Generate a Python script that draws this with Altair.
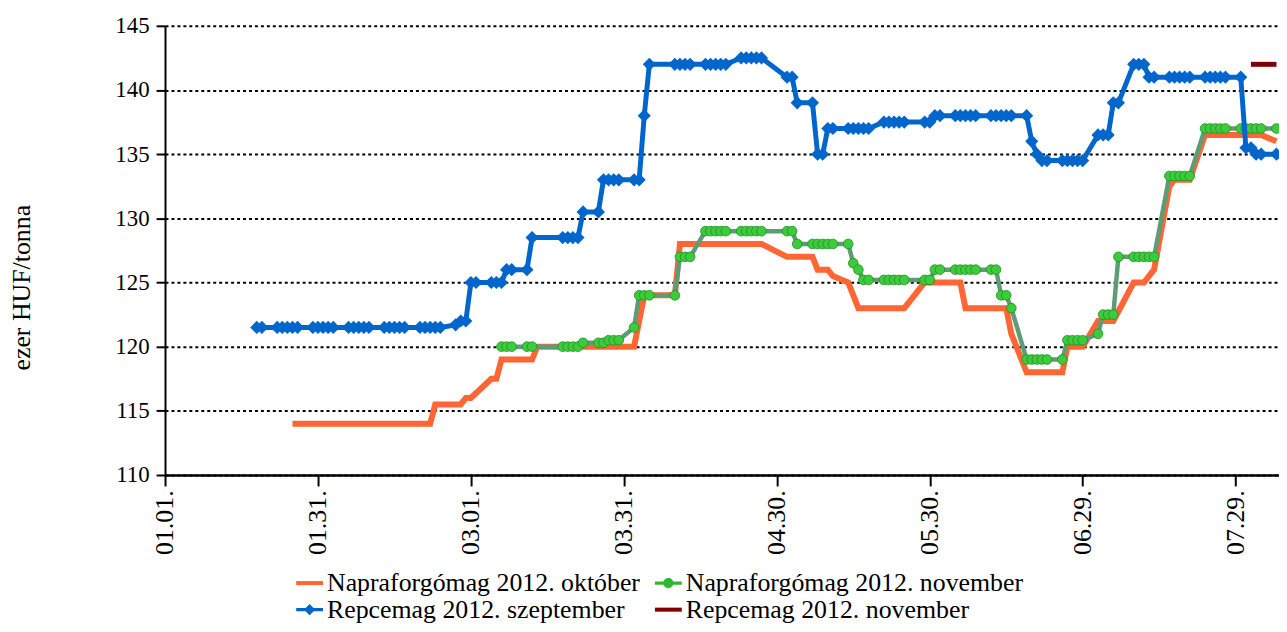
import altair as alt
import pandas as pd

# ---------------- data ----------------
START = "2012-01-01"
HOLIDAYS = ["2012-03-15", "2012-03-16", "2012-04-06", "2012-04-09",
            "2012-04-30", "2012-05-01", "2012-05-28"]

series_names = ["Napraforgómag 2012. október", "Napraforgómag 2012. november",
                "Repcemag 2012. szeptember", "Repcemag 2012. november"]

tick_days = [0, 30, 60, 90, 120, 150, 180, 210]
tick_labels = ["01.01.", "01.31.", "03.01.", "03.31.", "04.30.", "05.30.", "06.29.", "07.29."]

# Napraforgómag 2012. október (line vertices)
okt_dates = ["01-26", "02-22", "02-23", "02-28", "02-29", "03-01", "03-05", "03-06", "03-07",
             "03-13", "03-14", "04-02", "04-04", "04-10", "04-11", "04-27", "05-02", "05-07",
             "05-08", "05-10", "05-11", "05-14", "05-16", "05-25", "05-29", "06-05", "06-06",
             "06-14", "06-15", "06-18", "06-25", "06-26", "06-29", "07-02", "07-05", "07-09",
             "07-11", "07-13", "07-16", "07-17", "07-20", "07-23", "08-03", "08-06"]
okt_values = [114, 114, 115.5, 115.5, 116, 116, 117.5, 117.5, 119,
              119, 120, 120, 124, 124, 128, 128, 127, 127,
              126, 126, 125.5, 125, 123, 123, 125, 125, 123,
              123, 121, 118, 118, 120, 120, 122, 122, 125,
              125, 126, 132.5, 133, 133, 136.5, 136.5, 136]

# Napraforgómag 2012. november (trading-day levels: from, to, value)
nov_from = ["03-07", "03-12", "03-19", "03-23", "03-28", "04-02", "04-03", "04-10", "04-11",
            "04-16", "05-04", "05-15", "05-16", "05-17", "05-31", "06-13", "06-15", "06-18",
            "06-26", "07-02", "07-03", "07-06", "07-16", "07-23"]
nov_to = ["03-09", "03-13", "03-22", "03-27", "03-30", "04-02", "04-05", "04-10", "04-13",
          "05-03", "05-14", "05-15", "05-16", "05-30", "06-12", "06-14", "06-15", "06-25",
          "06-29", "07-02", "07-05", "07-13", "07-20", "08-06"]
nov_values = [120, 120, 120, 120.3, 120.5, 121.5, 124, 124, 127,
              129, 128, 126.5, 126, 125.2, 126, 124, 123, 119,
              120.5, 121, 122.5, 127, 133.3, 137]

# Repcemag 2012. szeptember (trading-day levels: from, to, value)
rep_from = ["01-19", "02-27", "02-28", "03-01", "03-08", "03-13", "03-19", "03-23", "03-27",
            "04-04", "04-05", "04-23", "05-02", "05-04", "05-08", "05-10", "05-21", "05-31",
            "06-19", "06-20", "06-21", "07-02", "07-05", "07-09", "07-12", "07-31", "08-02"]
rep_to = ["02-24", "02-27", "02-29", "03-07", "03-12", "03-13", "03-22", "03-26", "04-03",
          "04-04", "04-20", "04-27", "05-03", "05-07", "05-09", "05-18", "05-30", "06-18",
          "06-19", "06-20", "06-29", "07-04", "07-06", "07-11", "07-30", "08-01", "08-06"]
rep_values = [121.5, 121.7, 122, 125, 126, 128.5, 128.5, 130.5, 133,
              138, 142, 142.5, 141, 139, 135, 137, 137.5, 138,
              136, 135, 134.5, 136.5, 139, 142, 141, 135.5, 135]

# Repcemag 2012. november
repnov_dates = ["08-01", "08-06"]
repnov_values = [142, 142]

# ---------------- build tables ----------------
t0 = pd.Timestamp(START)


def day_of(mmdd):
    return (pd.Timestamp("2012-" + mmdd) - t0).days


def levels(froms, tos, vals):
    rows = []
    for a, b, v in zip(froms, tos, vals):
        for d in pd.bdate_range("2012-" + a, "2012-" + b):
            if d.strftime("%Y-%m-%d") not in HOLIDAYS:
                rows.append({"day": (d - t0).days, "value": v})
    return pd.DataFrame(rows)


df_okt = pd.DataFrame({"day": [day_of(d) for d in okt_dates], "value": okt_values})
df_nov = levels(nov_from, nov_to, nov_values)
df_rep = levels(rep_from, rep_to, rep_values)
df_repnov = pd.DataFrame({"day": [day_of(d) for d in repnov_dates], "value": repnov_values})
df_legend = pd.DataFrame({"series": series_names})

# ---------------- style ----------------
FONT = "Liberation Serif"
ORANGE = "#FF6633"
GREEN_LINE = "#5E9C76"
GREEN_PT = "#3CCB3C"
GREEN_EDGE = "#1F8F1F"
BLUE = "#0066CC"
DARKRED = "#800000"

label_expr = "[" + ",".join("'%s'" % t for t in tick_labels) + "][round(datum.value / 30)]"

X = alt.X("day:Q",
          scale=alt.Scale(domain=[0, 218.5], nice=False, zero=False),
          axis=alt.Axis(values=tick_days, labelExpr=label_expr, labelAngle=270,
                        labelFont=FONT, labelFontSize=26, labelColor="black",
                        labelPadding=4, tickSize=11, tickWidth=2, tickColor="black",
                        domainColor="black", domainWidth=2.5, grid=False, title=None))
Y = alt.Y("value:Q",
          scale=alt.Scale(domain=[110, 145], nice=False, zero=False),
          axis=alt.Axis(values=list(range(110, 146, 5)), labelFont=FONT, labelFontSize=23,
                        labelColor="black", labelPadding=7, tickSize=9, tickWidth=2,
                        tickColor="black", domainColor="black", domainWidth=2,
                        grid=True, gridColor="black", gridDash=[3, 3], gridWidth=2,
                        title="ezer HUF/tonna", titleFont=FONT, titleFontSize=26,
                        titleFontWeight="normal", titleColor="black", titleAngle=270,
                        titleAlign="center", titleBaseline="middle",
                        titleX=-144, titleY=263))

orange_line = alt.Chart(df_okt).mark_line(color=ORANGE, strokeWidth=6).encode(x=X, y=Y)
green_line = alt.Chart(df_nov).mark_line(color=GREEN_LINE, strokeWidth=4.5).encode(x=X, y=Y)
green_pts = alt.Chart(df_nov).mark_point(shape="circle", filled=True, fill=GREEN_PT,
                                         stroke=GREEN_EDGE, strokeWidth=0.8, size=95,
                                         opacity=1).encode(x=X, y=Y)
blue_line = alt.Chart(df_rep).mark_line(color=BLUE, strokeWidth=5).encode(x=X, y=Y)
blue_pts = alt.Chart(df_rep).mark_point(shape="diamond", filled=True, color=BLUE,
                                        size=175, opacity=1).encode(x=X, y=Y)
red_line = alt.Chart(df_repnov).mark_line(color=DARKRED, strokeWidth=5).encode(x=X, y=Y)

legend_shapes = [
    "M-1,-0.15H1V0.15H-1Z",
    "M-1,-0.12H1V0.12H-1Z M0.38,0A0.38,0.38 0 1,1 -0.38,0A0.38,0.38 0 1,1 0.38,0Z",
    "M-1,-0.12H1V0.12H-1Z M0,-0.42L0.42,0L0,0.42L-0.42,0Z",
    "M-1,-0.15H1V0.15H-1Z",
]
legend_colors = [ORANGE, "#2FB82F", BLUE, DARKRED]


def make_legend():
    return alt.Legend(title=None, orient="none", direction="horizontal",
                      legendX=132, legendY=547, columns=2,
                      columnPadding=14, rowPadding=0, labelFont=FONT, labelFontSize=26,
                      labelColor="black", labelLimit=600, labelOffset=4, symbolSize=729,
                      symbolOpacity=1, symbolStrokeWidth=0, padding=0)


legend_layer = alt.Chart(df_legend).mark_point(filled=True, opacity=0).encode(
    color=alt.Color("series:N", scale=alt.Scale(domain=series_names, range=legend_colors),
                    legend=make_legend()),
    shape=alt.Shape("series:N", scale=alt.Scale(domain=series_names, range=legend_shapes),
                    legend=make_legend()),
)

chart = alt.layer(orange_line, green_line, green_pts, blue_line, blue_pts, red_line,
                  legend_layer).properties(
    width=1121, height=452,
    autosize=alt.AutoSizeParams(type="none"),
    padding={"left": 158, "top": 16, "right": 0, "bottom": 148},
    background="white",
).configure_view(stroke=None)

chart.save("out.html", embed_options={"renderer": "svg", "actions": False})
